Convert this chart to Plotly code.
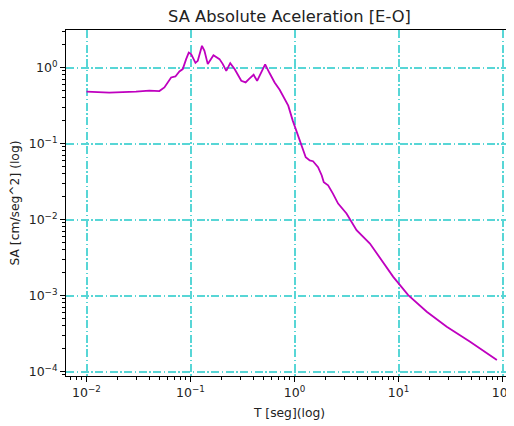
import plotly.graph_objects as go

# Period T [s] and spectral acceleration SA
T = [0.0100, 0.01655, 0.0299, 0.0402, 0.0502, 0.0561, 0.0651, 0.0716, 0.0782, 0.0842,
     0.0908, 0.0962, 0.1014, 0.1116, 0.1175, 0.1289, 0.1362, 0.1466, 0.1663, 0.190,
     0.2046, 0.2207, 0.241, 0.2654, 0.3078, 0.3388, 0.364, 0.4044, 0.437, 0.480,
     0.522, 0.577, 0.644, 0.720, 0.805, 0.871, 0.962, 1.043, 1.122, 1.282,
     1.401, 1.507, 1.685, 1.828, 1.912, 2.104, 2.335, 2.626, 3.163, 3.95,
     5.31, 8.90, 12.4, 18.7, 29.1, 48.8, 88.3]
SA = [0.480, 0.466, 0.480, 0.495, 0.490, 0.547, 0.739, 0.762, 0.886, 0.953,
      1.289, 1.573, 1.499, 1.152, 1.224, 1.926, 1.656, 1.108, 1.445, 1.289,
      1.108, 0.905, 1.142, 0.953, 0.669, 0.636, 0.705, 0.802, 0.669, 0.860,
      1.102, 0.839, 0.636, 0.510, 0.377, 0.315, 0.200, 0.148, 0.109, 0.0660,
      0.0598, 0.0585, 0.0488, 0.0380, 0.0310, 0.0281, 0.0221, 0.0162, 0.0120, 0.00722,
      0.00483, 0.00176, 0.00101, 6.12e-4, 3.89e-4, 2.47e-4, 1.42e-4]

x_tickvals = [1e-2, 1e-1, 1e0, 1e1, 1e2]
x_ticktext = ["10<sup>−2</sup>", "10<sup>−1</sup>", "10<sup>0</sup>", "10<sup>1</sup>", "10<sup>2</sup>"]
y_tickvals = [1e-4, 1e-3, 1e-2, 1e-1, 1e0]
y_ticktext = ["10<sup>−4</sup>", "10<sup>−3</sup>", "10<sup>−2</sup>", "10<sup>−1</sup>", "10<sup>0</sup>"]

FONT = "DejaVu Sans"
GRID = "#58d6d6"
TXT = "#222222"

fig = go.Figure()
fig.add_trace(go.Scatter(x=T, y=SA, mode="lines",
                         line=dict(color="#bf00bf", width=1.8), showlegend=False))

axis_common = dict(
    type="log", showline=True, linecolor="black", linewidth=1, mirror=True,
    ticks="outside", ticklen=5, tickwidth=1, tickcolor="black",
    showgrid=True, gridcolor=GRID, griddash="8px,2.5px,1.5px,2.5px", gridwidth=1.8,
    zeroline=False, automargin=False,
    tickfont=dict(family=FONT, size=12.5, color=TXT),
    minor=dict(ticks="outside", ticklen=3, tickcolor="black", dtick="D1",
               showgrid=False),
)

# the page body adds an 8 px margin, so the figure is sized / offset to compensate
fig.update_layout(
    width=506, height=418,
    margin=dict(l=58, r=1, t=22, b=50, autoexpand=False),
    paper_bgcolor="white", plot_bgcolor="white",
    title=dict(text="SA Absolute Aceleration [E-O]", x=0.5, xref="paper", xanchor="center",
               y=1 - 8 / 418, yref="container", yanchor="middle",
               font=dict(family=FONT, size=16.3, color=TXT)),
    xaxis=dict(axis_common, range=[-2.19712, 2.10096], tickvals=x_tickvals, ticktext=x_ticktext,
               title=dict(text="T [seg](log)", font=dict(family=FONT, size=12.3, color=TXT), standoff=9)),
    yaxis=dict(axis_common, range=[-4.0592, 0.4934], tickvals=y_tickvals, ticktext=y_ticktext,
               title=dict(text="SA [cm/seg^2] (log)", font=dict(family=FONT, size=12.3, color=TXT), standoff=9)),
)

fig.write_html("out.html")
